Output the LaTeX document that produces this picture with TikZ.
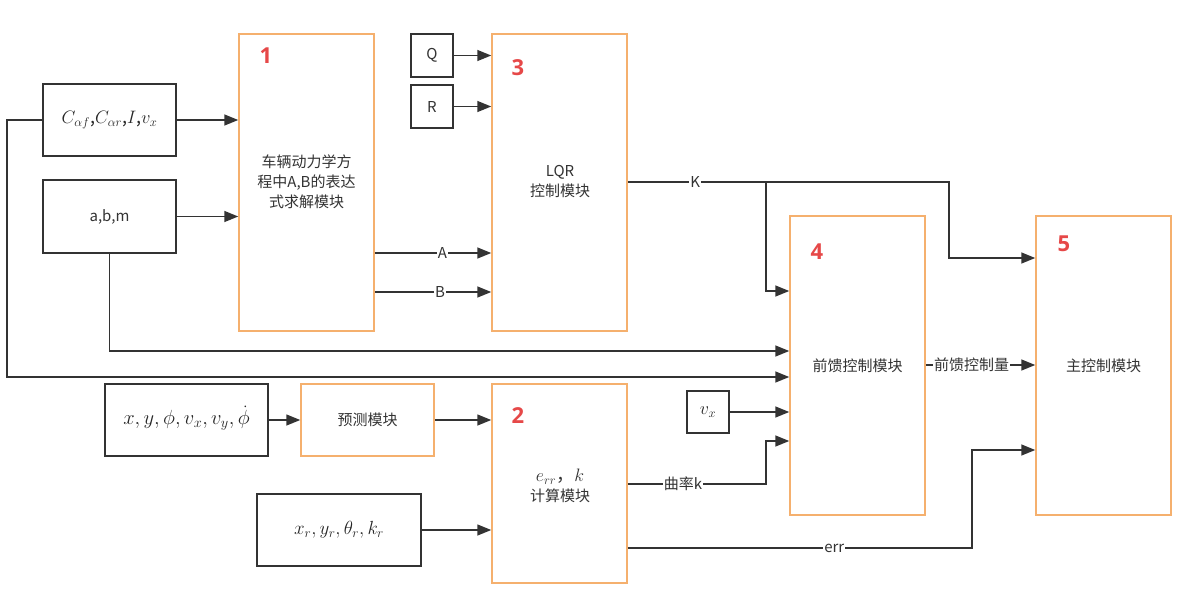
\RequirePackage{fix-cm}
\documentclass[tikz,border=0pt]{standalone}
\usepackage{fontspec}
\setmainfont{Noto Sans CJK SC}
\newfontfamily\numfont{Open Sans}
\usetikzlibrary{arrows.meta}
\definecolor{obord}{HTML}{F5B06E}
\definecolor{dline}{HTML}{333333}
\definecolor{numred}{HTML}{E64848}
\begin{document}
\begin{tikzpicture}[x=1pt,y=-1pt,
  obox/.style={draw=obord, line width=1.5pt, fill=white, inner sep=0pt},
  bbox/.style={draw=dline, line width=1.8pt, fill=white, inner sep=0pt},
  arr/.style={draw=dline, line width=1.5pt, -{Triangle[length=14pt,width=11pt]}},
  lbl/.style={fill=white, inner sep=1pt, font=\fontsize{15}{18}\selectfont, text=black!80},
  txt/.style={align=center, font=\fontsize{15}{20}\selectfont, text=black!80},
  mth/.style={font=\fontsize{18}{22}\selectfont, text=black!85},
  num/.style={font=\numfont\bfseries\fontsize{22}{24}\selectfont, text=numred}]
\useasboundingbox (0,0) rectangle (1192,600);
% main modules
\node[obox, minimum width=135, minimum height=297] (m1) at (306.5,182.5) {};
\node[obox, minimum width=135, minimum height=297] (m3) at (559.5,182.5) {};
\node[obox, minimum width=135, minimum height=299] (m4) at (857.5,365.5) {};
\node[obox, minimum width=135, minimum height=299] (m5) at (1103.5,365.5) {};
\node[obox, minimum width=135, minimum height=199] (m2) at (559.5,483.5) {};
\node[obox, minimum width=133, minimum height=72] (pred) at (367.5,420) {};
% input boxes
\node[bbox, minimum width=133, minimum height=72] (cp) at (109.5,120) {};
\node[bbox, minimum width=133, minimum height=73] (abm) at (109.5,216.5) {};
\node[bbox, minimum width=42, minimum height=43] (q) at (432,55.5) {};
\node[bbox, minimum width=42, minimum height=43] (r) at (432,106.5) {};
\node[bbox, minimum width=163, minimum height=72] (st) at (186.5,420) {};
\node[bbox, minimum width=164, minimum height=72] (ref) at (339,530) {};
\node[bbox, minimum width=42, minimum height=42] (vx) at (708,412) {};
% texts
\node[mth] (cpt) at (cp.center) {$C_{\alpha f}$,$C_{\alpha r}$,$I$,$v_x$};
\node[txt] (abmt) at (abm.center) {a,b,m};
\node[txt] (qt) at (q.center) {Q};
\node[txt] (rt) at (r.center) {R};
\node[mth, font=\fontsize{20.5}{22}\selectfont] (stt) at (186.5,418) {$x,y,\phi,v_x,v_y,\dot{\phi}$};
\node[mth, font=\fontsize{19}{22}\selectfont] (reft) at (ref.center) {$x_r,y_r,\theta_r,k_r$};
\node[mth] (vxt) at (vx.center) {$v_x$};
\node[txt] (m1t) at (306.5,182) {车辆动力学方\\程中A,B的表达\\式求解模块};
\node[txt] (m3t) at (560,182) {LQR\\控制模块};
\node[txt] (m2t) at (560,486) {{\fontsize{18}{20}\selectfont$e_{rr}$，$k$}\\计算模块};
\node[txt] (m4t) at (m4.center) {前馈控制模块};
\node[txt] (m5t) at (m5.center) {主控制模块};
\node[txt] (predt) at (pred.center) {预测模块};
\node[num] (n1) at (266,56) {1};
\node[num] (n3) at (518,68) {3};
\node[num] (n4) at (817,252) {4};
\node[num] (n5) at (1064,244) {5};
\node[num] (n2) at (518,416) {2};
% connectors
\coordinate (kb) at (766,182);
\coordinate (kr) at (949,182);
\draw[arr] (cp.east) -- (cp.east -| m1.west);
\draw[arr] (abm.east) -- (abm.east -| m1.west);
\draw[arr] (q.east) -- (q.east -| m3.west);
\draw[arr] (r.east) -- (r.east -| m3.west);
\draw[arr] (m1.east |- 0,253) -- node[lbl,pos=0.58]{A} (m3.west |- 0,253);
\draw[arr] (m1.east |- 0,292) -- node[lbl,pos=0.56]{B} (m3.west |- 0,292);
\draw[arr] (m3.east |- kr) -- node[lbl,pos=0.21]{K} (kr) -- (949,258) -- (m5.west |- 0,258);
\draw[arr] (kb) -- (766,291) -- (m4.west |- 0,291);
\draw[arr] (abm.south) -- (109.5,351) -- (m4.west |- 0,351);
\draw[arr] (cp.west) -- (7,120) -- (7,377) -- (m4.west |- 0,377);
\draw[arr] (vx.east) -- (m4.west |- vx.east);
\draw[arr] (m2.east |- 0,484) -- node[lbl,pos=0.4]{曲率k} (766,484) -- (766,441) -- (m4.west |- 0,441);
\draw[arr] (m2.east |- 0,548) -- node[lbl,pos=0.6]{err} (972,548) -- (972,450) -- (m5.west |- 0,450);
\draw[arr] (m4.east |- 0,365) -- node[lbl,pos=0.42]{前馈控制量} (m5.west |- 0,365);
\draw[arr] (st.east) -- (pred.west);
\draw[arr] (pred.east) -- (m2.west |- pred.east);
\draw[arr] (ref.east) -- (m2.west |- ref.east);
\end{tikzpicture}
\end{document}
